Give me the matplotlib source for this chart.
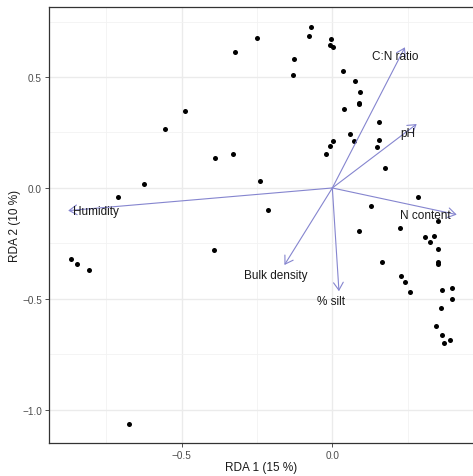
import numpy as np
import matplotlib
matplotlib.use('Agg')
import matplotlib.pyplot as plt

plt.rcParams['font.family'] = ['Liberation Sans', 'DejaVu Sans']

# site scores
site_x = [-0.324, -0.488, -0.555, -0.389, -0.331, -0.624, -0.712,
          -0.249, -0.240, -0.215,
          -0.070, -0.078, -0.003, -0.008, 0.001, -0.127, -0.131, 0.036, 0.075,
          0.091, 0.089, 0.089, 0.039, 0.156, 0.059, 0.072, 0.155, 0.149,
          0.001, -0.007, -0.021,
          0.174, 0.285, 0.127, 0.350, 0.090, 0.224, 0.306, 0.337,
          0.323, 0.351, 0.350, 0.350, 0.165, 0.227, 0.240, 0.257, 0.363, 0.398,
          0.398, 0.360, 0.343, 0.365, 0.392, 0.370,
          -0.869, -0.849, -0.807, -0.394, -0.674]
site_y = [0.613, 0.345, 0.266, 0.134, 0.153, 0.018, -0.041,
          0.677, 0.030, -0.098,
          0.724, 0.686, 0.670, 0.643, 0.634, 0.583, 0.509, 0.527, 0.483,
          0.434, 0.384, 0.377, 0.354, 0.296, 0.245, 0.212, 0.215, 0.183,
          0.213, 0.189, 0.153,
          0.091, -0.042, -0.083, -0.149, -0.195, -0.179, -0.221, -0.216,
          -0.243, -0.275, -0.341, -0.335, -0.332, -0.396, -0.422, -0.468, -0.458, -0.450,
          -0.499, -0.542, -0.623, -0.662, -0.686, -0.700,
          -0.321, -0.341, -0.371, -0.279, -1.063]

# environmental vectors
vec_names = ['C:N ratio', 'pH', 'N content', 'Humidity', 'Bulk density', '% silt']
vec_x = [0.241, 0.280, 0.413, -0.877, -0.159, 0.022]
vec_y = [0.634, 0.288, -0.120, -0.102, -0.347, -0.465]
lab_x = [0.210, 0.251, 0.310, -0.786, -0.188, -0.003]
lab_y = [0.596, 0.246, -0.122, -0.104, -0.390, -0.508]

fig = plt.figure(figsize=(4.73, 4.77), dpi=100)
ax = fig.add_axes([0.1036, 0.0692, 0.8964, 0.9134])

ax.set_xlim(-0.9406, 0.467)
ax.set_ylim(-1.149, 0.814)

ax.set_xticks([-0.5, 0.0])
ax.set_xticklabels(['\u22120.5', '0.0'])
ax.set_yticks([-1.0, -0.5, 0.0, 0.5])
ax.set_yticklabels(['\u22121.0', '\u22120.5', '0.0', '0.5'])
ax.set_xticks([-0.75, -0.25, 0.25], minor=True)
ax.set_yticks([-0.75, -0.25, 0.25, 0.75], minor=True)
ax.grid(True, which='major', color='#ebebeb', linewidth=1.0)
ax.grid(True, which='minor', color='#f2f2f2', linewidth=0.6)
ax.set_axisbelow(True)
ax.tick_params(which='minor', length=0)
ax.tick_params(which='major', length=3, color='#333333', labelsize=7.2,
               labelcolor='#4d4d4d', width=0.6, pad=2)

for s in ['left', 'bottom', 'top']:
    ax.spines[s].set_color('#333333')
    ax.spines[s].set_linewidth(0.9)
ax.spines['right'].set_visible(False)

ax.scatter(site_x, site_y, s=13, color='black', zorder=3, linewidths=0)

for i in range(len(vec_names)):
    ax.annotate('', xy=(vec_x[i], vec_y[i]), xytext=(0, 0),
                arrowprops=dict(arrowstyle='->, head_length=0.55, head_width=0.35',
                                color='#8585cf', lw=0.8, shrinkA=0, shrinkB=0,
                                mutation_scale=10), zorder=4)
    ax.text(lab_x[i], lab_y[i], vec_names[i], ha='center', va='center',
            fontsize=8.5, color='#1a1a1a', zorder=5)

ax.set_xlabel('RDA 1 (15 %)', fontsize=8.5, color='#1a1a1a', labelpad=1)
ax.set_ylabel('RDA 2 (10 %)', fontsize=8.5, color='#1a1a1a', labelpad=1)

fig.savefig('out.png', dpi=100)
